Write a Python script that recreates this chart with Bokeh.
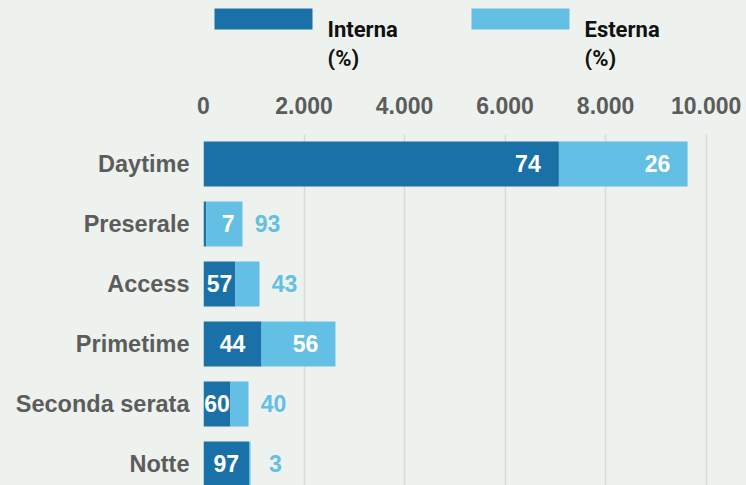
from bokeh.plotting import figure
from bokeh.models import ColumnDataSource, Range1d, FixedTicker
from bokeh.layouts import column
from bokeh.embed import file_html
from bokeh.resources import INLINE
from bokeh.core.properties import value

# ---- data ----
categories = ["Daytime", "Preserale", "Access", "Primetime", "Seconda serata", "Notte"]
interna = [7070, 55, 635, 1155, 537, 905]
esterna = [2560, 720, 480, 1470, 358, 30]
interna_pct = [74, 7, 57, 44, 60, 97]
esterna_pct = [26, 93, 43, 56, 40, 3]
series_names = ["Interna", "Esterna"]
series_unit = "(%)"
x_ticks = [0, 2000, 4000, 6000, 8000, 10000]
x_tick_labels = ["0", "2.000", "4.000", "6.000", "8.000", "10.000"]

# ---- style ----
DARK = "#1a71a8"
LIGHT = "#63bfe4"
BG = "#edf2ee"
GRID = "#d8dbd8"
TEXT = "#5c5c5c"
FONT = "Liberation Sans"

W = 746
H_TOTAL = 485
LEG_H = 70
H = H_TOTAL - LEG_H
LEFT = 203
TOP = 134 - LEG_H
X_END = 10802
ROW_PX = 60.0
Y_TOP = -0.49

frame_w = W - LEFT
frame_h = H - TOP
px = frame_w / X_END
y_start = Y_TOP + frame_h / ROW_PX

ypos = list(range(len(categories)))
total = [a + b for a, b in zip(interna, esterna)]

src = ColumnDataSource(dict(y=ypos, interna=interna, esterna=esterna))

# label placement rules
lx, ly, lt, loff, lcol = [], [], [], [], []
for i in range(len(categories)):
    w_in = interna[i] * px
    lx.append(interna[i]); ly.append(ypos[i]); lt.append(str(interna_pct[i])); lcol.append("white")
    if w_in < 20:
        loff.append(22)
    else:
        loff.append(max(-31, -w_in / 2))
    w_es = esterna[i] * px
    lx.append(total[i]); ly.append(ypos[i]); lt.append(str(esterna_pct[i]))
    if w_es > 60:
        loff.append(-30); lcol.append("white")
    else:
        loff.append(25); lcol.append(LIGHT)
lab_src = ColumnDataSource(dict(x=lx, y=ly, text=lt, xoff=loff, color=lcol))

# ---- legend strip (its frame is aligned with the chart frame: x in page pixels) ----
leg = figure(width=W, height=LEG_H, output_backend="svg", toolbar_location=None,
             x_range=Range1d(LEFT, W), y_range=Range1d(LEG_H, 0),
             min_border=0)
leg.axis.visible = False
leg.grid.visible = False
leg.outline_line_color = None
leg.background_fill_color = BG
leg.border_fill_color = BG
sw_left = [214, 471]
sw_w = 98
leg.quad(left=sw_left, right=[v + sw_w for v in sw_left], top=[8, 8], bottom=[29, 29],
         color=[DARK, LIGHT], line_color=None)
tx = [v + sw_w + 15 for v in sw_left]
leg.text(x=tx + tx, y=[29, 29, 58, 58], text=series_names + [series_unit, series_unit],
         text_font=value("Roboto"), text_font_style="bold", text_font_size="22px",
         text_color="#111111", text_baseline="alphabetic", text_align="left")

# ---- main chart ----
p = figure(width=W, height=H, output_backend="svg", toolbar_location=None,
           x_range=Range1d(0, X_END), y_range=Range1d(y_start, Y_TOP),
           x_axis_location="above",
           min_border_left=LEFT, min_border_right=0, min_border_top=TOP, min_border_bottom=0)
p.background_fill_color = BG
p.border_fill_color = BG
p.outline_line_color = None

rs = p.hbar_stack(["interna", "esterna"], y="y", height=0.75, color=[DARK, LIGHT],
                  line_color=None, source=src)

p.text(x="x", y="y", text="text", x_offset="xoff", text_color="color",
       text_align="center", text_baseline="middle", text_font=value(FONT),
       text_font_style="bold", text_font_size="23px", source=lab_src)

xa = p.xaxis[0]
xa.ticker = FixedTicker(ticks=x_ticks)
xa.major_label_overrides = {t: l for t, l in zip(x_ticks, x_tick_labels)}
xa.axis_line_color = None
xa.major_tick_line_color = None
xa.major_tick_out = 0
xa.major_tick_in = 0
xa.minor_tick_line_color = None
xa.major_label_standoff = 21
xa.major_label_text_font = FONT
xa.major_label_text_font_style = "bold"
xa.major_label_text_font_size = "23px"
xa.major_label_text_color = TEXT

ya = p.yaxis[0]
ya.ticker = FixedTicker(ticks=ypos)
ya.major_label_overrides = {i: c for i, c in zip(ypos, categories)}
ya.axis_line_color = None
ya.major_tick_line_color = None
ya.major_tick_out = 0
ya.major_tick_in = 0
ya.minor_tick_line_color = None
ya.major_label_standoff = 14
ya.major_label_text_font = FONT
ya.major_label_text_font_style = "bold"
ya.major_label_text_font_size = "23.5px"
ya.major_label_text_color = TEXT

p.ygrid.visible = False
p.xgrid.grid_line_color = GRID
p.xgrid.grid_line_width = 1.5

layout = column(leg, p, spacing=0)

html = file_html(layout, INLINE)
html = html.replace("<head>", "<head><style>html, body { background: %s; }</style>" % BG, 1)
open("out.html", "w").write(html)
